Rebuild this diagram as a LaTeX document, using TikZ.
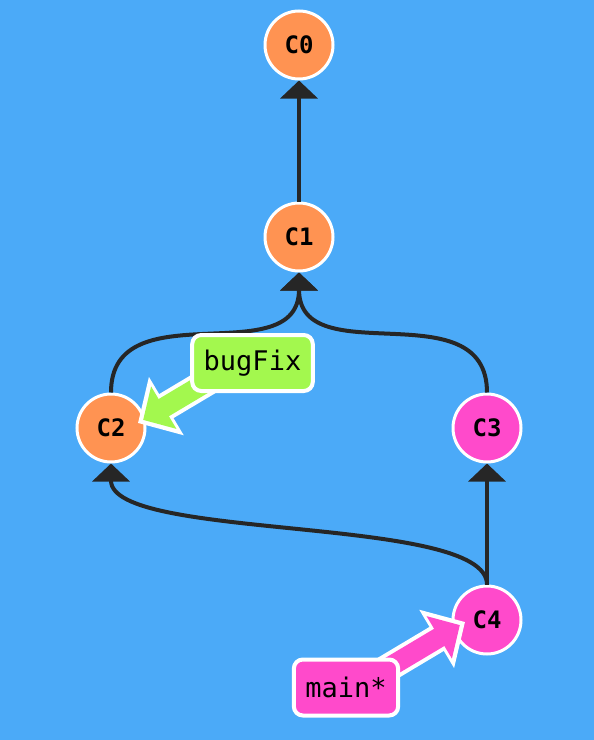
\documentclass[tikz,border=0pt]{standalone}
\usepackage{fontspec}
\usetikzlibrary{arrows.meta}
\newfontfamily\gitmono{DejaVu Sans Mono}
\definecolor{bg}{HTML}{4BAAF8}
\definecolor{cOrange}{HTML}{FF9352}
\definecolor{cPink}{HTML}{FF4ACB}
\definecolor{cGreen}{HTML}{A3F84E}
\definecolor{edgecol}{HTML}{262626}

\begin{document}
\begin{tikzpicture}[
  x=1bp, y=-1bp,
  commit/.style={circle, draw=white, line width=3bp, minimum size=68bp, inner sep=0pt, font=\gitmono\bfseries\fontsize{24bp}{26bp}\selectfont},
  branchbox/.style={draw=white, line width=4bp, rounded corners=9bp, minimum height=56bp, inner xsep=11.5bp, inner ysep=0pt, font=\gitmono\fontsize{27bp}{30bp}\selectfont},
  parentarr/.style={-{Triangle[length=18bp,width=37bp]}, line width=4bp, draw=edgecol},
  ptrout/.style={-{Triangle[length=33bp,width=66bp]}, line width=28bp, draw=white},
  ptrin/.style={-{Triangle[length=24bp,width=48bp]}, line width=20bp, shorten >=6bp},
]

\fill[bg] (0,0) rectangle (594,740);

\node[commit, fill=cOrange] (c0) at (299,45) {C0};
\node[commit, fill=cOrange] (c1) at (299,237) {C1};
\node[commit, fill=cOrange] (c2) at (111,428) {C2};
\node[commit, fill=cPink] (c3) at (487,428) {C3};
\node[commit, fill=cPink] (c4) at (487,620) {C4};

\draw[parentarr] (c1.north) -- (c0.south);
\draw[parentarr] (c2.north) .. controls +(0,-104) and +(0,102) .. (c1.south);
\draw[parentarr] (c3.north) .. controls +(0,-104) and +(0,102) .. (c1.south);
\draw[parentarr] (c4.north) -- (c3.south);
\draw[parentarr] (c4.north) .. controls +(0,-70) and +(0,78) .. (c2.south);

\coordinate (bugfixtail) at (252,355);
\coordinate (maintail) at (346,693);
\draw[ptrout] (bugfixtail) -- ([shift={(27,-5)}]c2.center);
\draw[ptrin, draw=cGreen] (bugfixtail) -- ([shift={(27,-5)}]c2.center);
\draw[ptrout] (maintail) -- ([shift={(-22,2)}]c4.center);
\draw[ptrin, draw=cPink] (maintail) -- ([shift={(-22,2)}]c4.center);

\node[branchbox, fill=cGreen] (bugfix) at (252.5,363) {bugFix};
\node[branchbox, fill=cPink] (mainbr) at (346,687.5) {main*};

\end{tikzpicture}
\end{document}
